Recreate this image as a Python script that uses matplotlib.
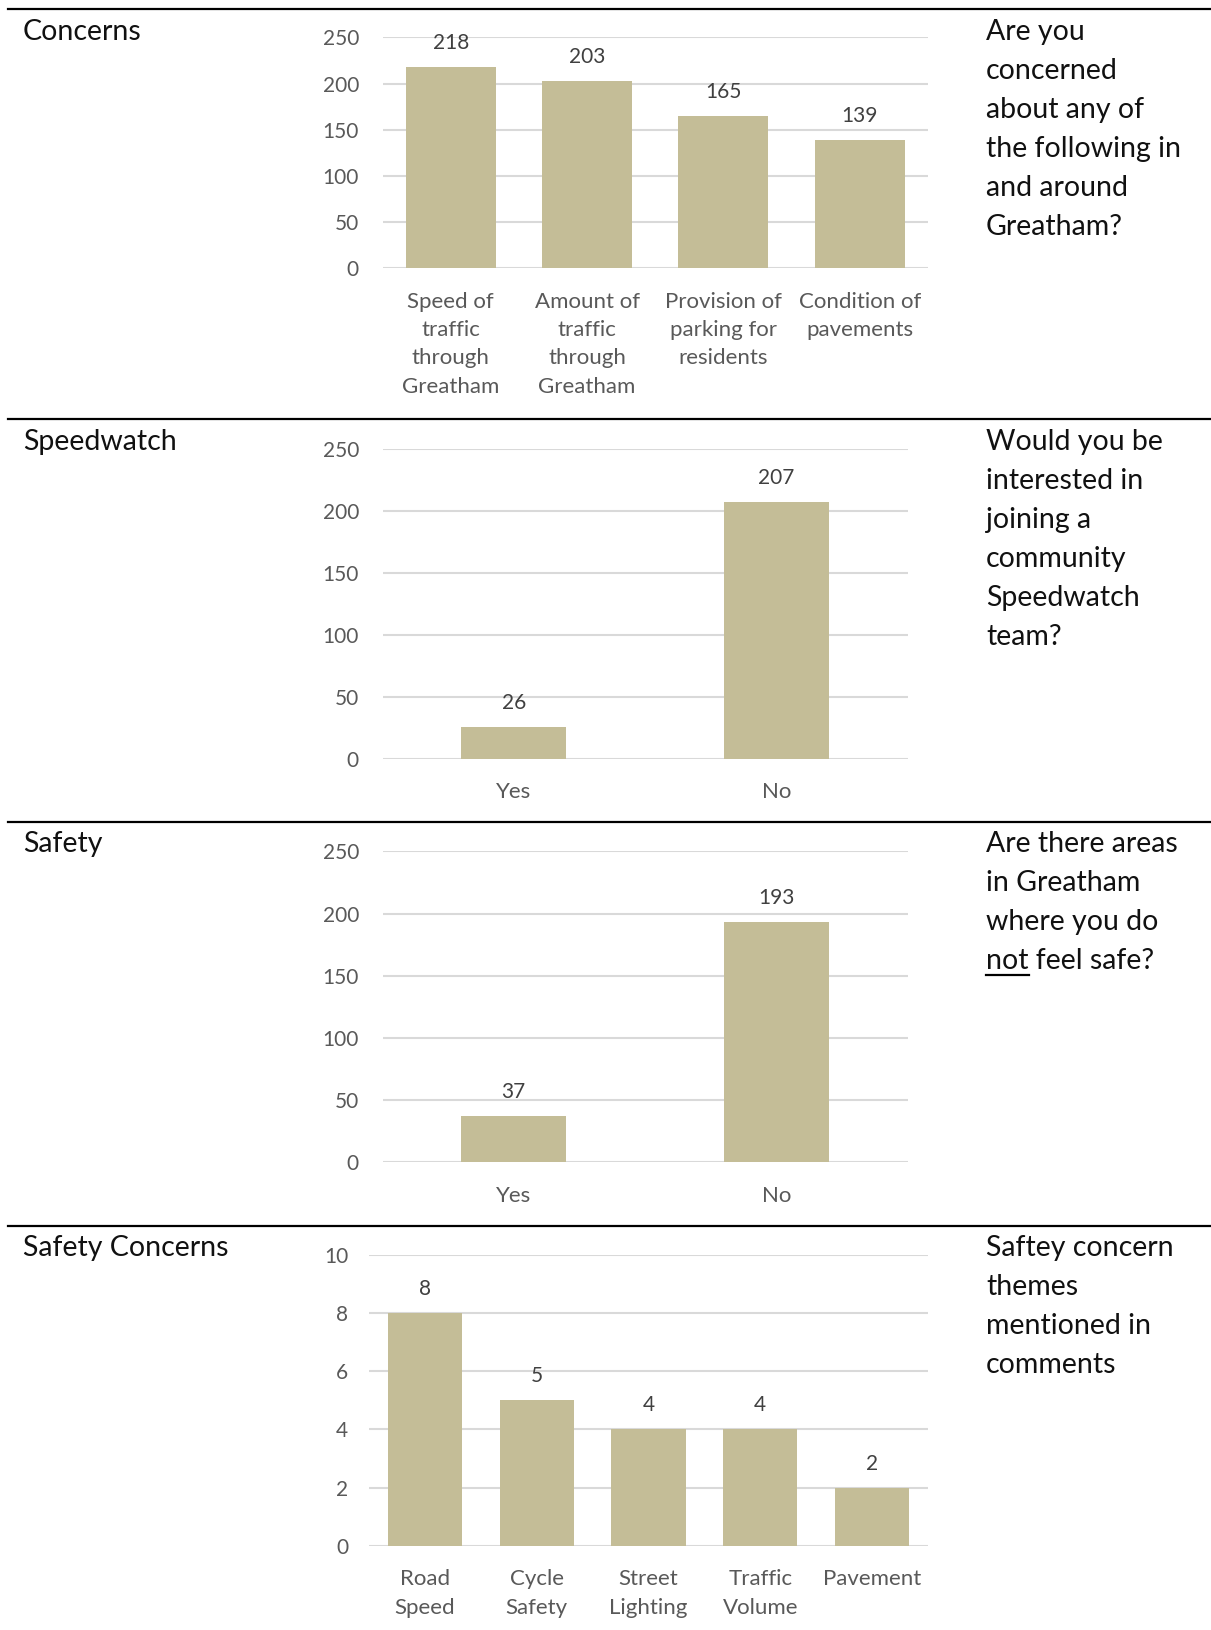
import matplotlib
matplotlib.use("Agg")
import matplotlib.pyplot as plt
from matplotlib.lines import Line2D

plt.rcParams['font.family'] = ['Lato', 'DejaVu Sans']

W, H = 1211, 1630
BAR = '#C4BD97'
GRID = '#D9D9D9'
AXTXT = '#595959'

# data
concern_cats = ['Speed of\ntraffic\nthrough\nGreatham', 'Amount of\ntraffic\nthrough\nGreatham',
                'Provision of\nparking for\nresidents', 'Condition of\npavements']
concern_vals = [218, 203, 165, 139]

yes_no = ['Yes', 'No']
speedwatch_vals = [26, 207]
safety_vals = [37, 193]

safety_cats = ['Road\nSpeed', 'Cycle\nSafety', 'Street\nLighting', 'Traffic\nVolume', 'Pavement']
safety_concern_vals = [8, 5, 4, 4, 2]

titles = ['Concerns', 'Speedwatch', 'Safety', 'Safety Concerns']
questions = [
    ['Are you', 'concerned', 'about any of', 'the following in', 'and around', 'Greatham?'],
    ['Would you be', 'interested in', 'joining a', 'community', 'Speedwatch', 'team?'],
    ['Are there areas', 'in Greatham', 'where you do', 'not feel safe?'],
    ['Saftey concern', 'themes', 'mentioned in', 'comments'],
]

fig = plt.figure(figsize=(W / 100, H / 100), dpi=100)


def px_axes(l, t, r, b):
    return fig.add_axes([l / W, 1 - b / H, (r - l) / W, (b - t) / H])


def bar_panel(rect, cats, vals, ymax, step, width, ypad):
    ax = px_axes(*rect)
    x = range(len(cats))
    ax.bar(x, vals, width=width, color=BAR, zorder=2)
    ax.set_xlim(-0.5, len(cats) - 0.5)
    ax.set_ylim(0, ymax)
    ax.set_yticks(range(0, ymax + 1, step))
    ax.set_xticks(list(x))
    ax.set_xticklabels(cats, linespacing=1.52, fontsize=16)
    ax.grid(axis='y', color=GRID, linewidth=1.5, zorder=0)
    ax.set_axisbelow(True)
    for s in ax.spines.values():
        s.set_visible(False)
    ax.tick_params(axis='both', length=0, colors=AXTXT)
    ax.tick_params(axis='y', pad=ypad, labelsize=15)
    ax.tick_params(axis='x', pad=17)
    for xl in ax.get_xticklabels():
        xl.set_verticalalignment('top')
    for i, v in enumerate(vals):
        ax.annotate(str(v), (i, v), xytext=(0, 17.3), textcoords='offset points',
                    ha='center', va='center', fontsize=15, color='#404040')
    return ax


bar_panel((382.5, 37.4, 928, 268.2), concern_cats, concern_vals, 250, 50, 0.66, 17)
bar_panel((382.5, 449, 907.5, 758.8), yes_no, speedwatch_vals, 250, 50, 0.4, 17)
bar_panel((382.5, 851.4, 907.5, 1162.2), yes_no, safety_vals, 250, 50, 0.4, 17)
bar_panel((369, 1254.7, 928, 1545.8), safety_cats, safety_concern_vals, 10, 2, 0.665, 15)

# horizontal rules between sections
for yr in [9, 419, 822, 1226]:
    fig.add_artist(Line2D([8 / W, 1], [1 - yr / H, 1 - yr / H], color='black', linewidth=1.6))

tops = [32, 442, 844, 1248]
for title, q, t in zip(titles, questions, tops):
    fig.text(23 / W, 1 - t / H, title, fontsize=20.5,
             va='center', ha='left', color='#111111')
    for k, line in enumerate(q):
        fig.text(986 / W, 1 - (t + k * 39) / H, line, fontsize=20.5,
                 va='center', ha='left', color='#111111')

# underline "not" in the safety question
fig.canvas.draw()
r = fig.canvas.get_renderer()
tmp = fig.text(986 / W, 1 - (tops[2] + 3 * 39) / H, 'not', fontsize=20.5,
               va='center', ha='left')
bb = tmp.get_window_extent(renderer=r)
tmp.remove()
yu = bb.y0 - 1
fig.add_artist(Line2D([bb.x0 / W, bb.x1 / W], [yu / H, yu / H], color='black', linewidth=1.6))

fig.savefig('out.png', dpi=100)
